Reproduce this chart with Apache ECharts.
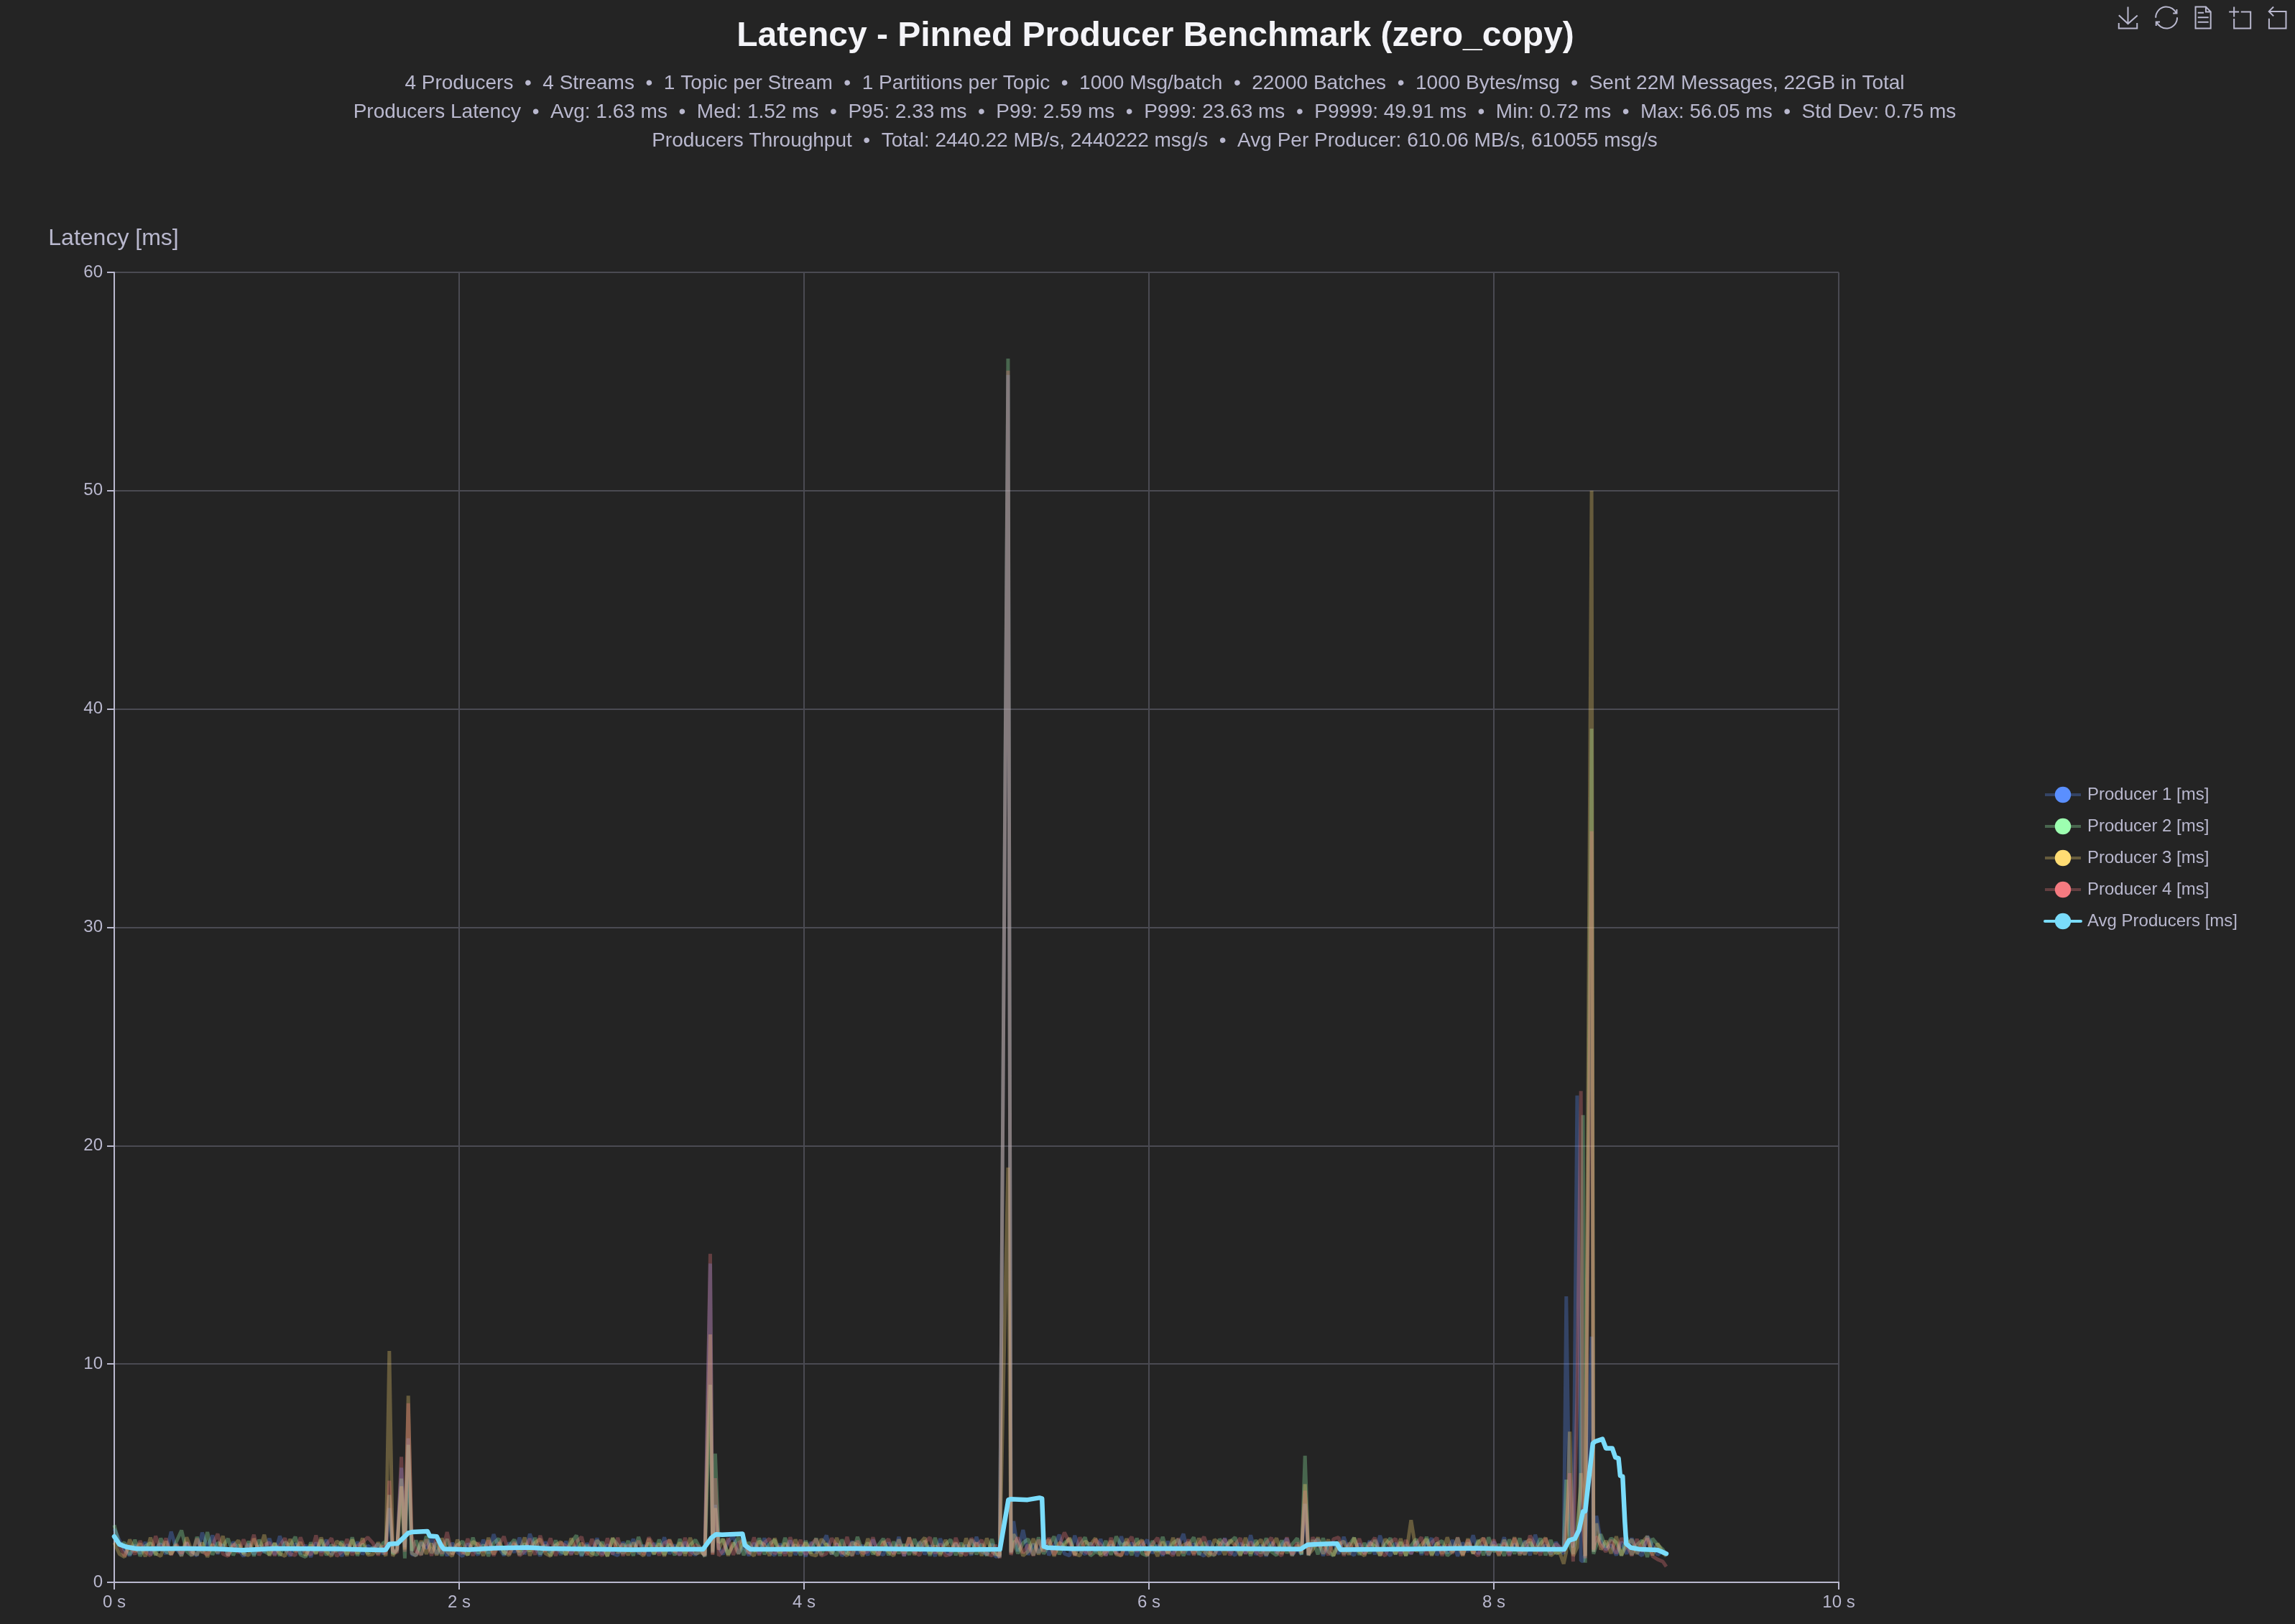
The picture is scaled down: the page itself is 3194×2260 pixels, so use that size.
<!DOCTYPE html>
<html>
<head>
<meta charset="utf-8">
<title>Latency - Pinned Producer Benchmark (zero_copy)</title>
<script src="https://cdn.jsdelivr.net/npm/echarts@6/dist/echarts.min.js"></script>
<style>
  html, body { margin: 0; padding: 0; background: #242424; }
  #chart { width: 3194px; height: 2260px; }
</style>
</head>
<body>
<div id="chart"></div>
<script>
const chartTitle = 'Latency - Pinned Producer Benchmark (zero_copy)';
const chartSubtitle = [
  '4 Producers  •  4 Streams  •  1 Topic per Stream  •  1 Partitions per Topic  •  1000 Msg/batch  •  22000 Batches  •  1000 Bytes/msg  •  Sent 22M Messages, 22GB in Total',
  'Producers Latency  •  Avg: 1.63 ms  •  Med: 1.52 ms  •  P95: 2.33 ms  •  P99: 2.59 ms  •  P999: 23.63 ms  •  P9999: 49.91 ms  •  Min: 0.72 ms  •  Max: 56.05 ms  •  Std Dev: 0.75 ms',
  'Producers Throughput  •  Total: 2440.22 MB/s, 2440222 msg/s  •  Avg Per Producer: 610.06 MB/s, 610055 msg/s'
];
const seriesNames = ['Producer 1 [ms]', 'Producer 2 [ms]', 'Producer 3 [ms]', 'Producer 4 [ms]', 'Avg Producers [ms]'];
const seriesColors = ['#5a8fff', '#9dffb0', '#ffdc73', '#f47a80', '#7adcfb'];

// seconds, tighter around the latency spikes
const timeSec = [
  0,0.03,0.06,0.09,0.12,0.15,0.18,0.21,0.24,0.27,
  0.30,0.33,0.36,0.39,0.42,0.45,0.48,0.51,0.54,0.57,
  0.60,0.63,0.66,0.69,0.72,0.75,0.78,0.81,0.84,0.87,
  0.90,0.93,0.96,0.99,1.02,1.05,1.08,1.11,1.14,1.17,
  1.20,1.23,1.26,1.29,1.32,1.35,1.38,1.41,1.44,1.47,
  1.50,1.53,1.56,1.575,1.595,1.615,1.64,1.665,1.685,1.705,
  1.725,1.75,1.78,1.81,1.84,1.87,1.90,1.93,1.96,1.99,
  2.02,2.05,2.08,2.11,2.14,2.17,2.20,2.23,2.26,2.29,
  2.32,2.35,2.38,2.41,2.44,2.47,2.50,2.53,2.56,2.59,
  2.62,2.65,2.68,2.71,2.74,2.77,2.80,2.83,2.86,2.89,
  2.92,2.95,2.98,3.01,3.04,3.07,3.10,3.13,3.16,3.19,
  3.22,3.25,3.28,3.31,3.34,3.37,3.40,3.425,3.456,3.47,
  3.485,3.505,3.53,3.56,3.59,3.62,3.65,3.68,3.71,3.74,
  3.77,3.80,3.83,3.86,3.89,3.92,3.95,3.98,4.01,4.04,
  4.07,4.10,4.13,4.16,4.19,4.22,4.25,4.28,4.31,4.34,
  4.37,4.40,4.43,4.46,4.49,4.52,4.55,4.58,4.61,4.64,
  4.67,4.70,4.73,4.76,4.79,4.82,4.85,4.88,4.91,4.94,
  4.97,5.00,5.03,5.06,5.09,5.11,5.135,5.183,5.20,5.215,
  5.24,5.27,5.30,5.33,5.36,5.39,5.42,5.45,5.48,5.51,
  5.54,5.57,5.60,5.63,5.66,5.69,5.72,5.75,5.78,5.81,
  5.84,5.87,5.90,5.93,5.96,5.99,6.02,6.05,6.08,6.11,
  6.14,6.17,6.20,6.23,6.26,6.29,6.32,6.35,6.38,6.41,
  6.44,6.47,6.50,6.53,6.56,6.59,6.62,6.65,6.68,6.71,
  6.74,6.77,6.80,6.83,6.86,6.885,6.905,6.925,6.95,6.98,
  7.01,7.04,7.07,7.10,7.13,7.16,7.19,7.22,7.25,7.28,
  7.31,7.34,7.37,7.40,7.43,7.46,7.49,7.52,7.55,7.58,
  7.61,7.64,7.67,7.70,7.73,7.76,7.79,7.82,7.85,7.88,
  7.91,7.94,7.97,8.00,8.03,8.06,8.09,8.12,8.15,8.18,
  8.21,8.24,8.27,8.30,8.33,8.36,8.385,8.405,8.42,8.44,
  8.46,8.483,8.505,8.517,8.53,8.567,8.578,8.595,8.62,8.65,
  8.68,8.71,8.74,8.77,8.80,8.83,8.86,8.89,8.92,8.95,
  8.98,9.00
];

const producer1 = [
  2.45,1.92,1.48,1.22,1.72,1.31,1.84,1.27,1.58,1.76,
  1.29,2.32,1.52,1.24,1.80,1.39,1.22,2.28,1.58,2.15,
  1.30,1.72,1.25,1.85,1.50,1.19,1.76,1.28,1.68,1.37,
  2.01,1.26,2.12,1.52,1.21,1.78,1.30,1.70,1.16,1.82,
  1.38,1.95,1.26,1.67,1.20,1.73,1.39,1.85,1.28,1.68,
  1.52,1.76,1.29,1.55,3.40,1.35,1.50,5.25,1.60,6.60,
  1.28,1.24,1.82,1.55,2.08,1.30,1.70,1.22,1.80,1.38,
  1.19,1.77,1.52,1.25,1.95,1.32,2.20,1.58,1.23,1.82,
  1.36,2.05,1.28,2.22,1.60,1.21,1.86,1.38,1.72,1.26,
  1.88,1.31,1.68,1.20,1.79,1.40,2.02,1.27,1.73,1.32,
  1.23,1.84,1.42,1.98,1.29,1.70,1.21,1.80,1.35,2.06,
  1.30,1.72,1.24,1.85,1.42,1.26,1.48,1.22,14.60,1.35,
  3.55,1.60,1.28,1.88,2.12,1.32,1.68,1.22,1.80,1.30,
  2.02,1.40,1.24,1.76,1.33,1.92,1.26,1.70,1.19,1.84,
  1.34,1.66,2.15,1.28,1.78,1.22,1.42,1.88,1.30,1.70,
  1.24,1.96,1.36,1.26,1.82,1.33,2.08,1.21,1.73,1.35,
  1.86,1.28,1.68,1.20,2.00,1.42,1.26,1.78,1.32,1.70,
  1.24,2.08,1.40,1.28,1.76,1.18,1.20,55.30,1.35,2.80,
  1.42,2.40,1.26,1.76,1.34,2.02,1.24,1.68,2.18,1.31,
  1.22,2.14,1.46,1.28,1.80,1.40,1.98,1.24,1.72,1.32,
  2.10,1.26,1.82,1.20,1.68,1.94,1.33,1.70,1.22,1.88,
  1.30,1.65,2.22,1.26,1.78,1.34,1.21,1.90,1.48,1.29,
  2.02,1.40,1.24,1.80,1.32,2.16,1.26,1.70,1.20,1.84,
  1.34,1.72,2.00,1.24,1.52,1.28,3.60,1.26,1.76,1.98,
  1.22,1.68,1.84,1.30,2.08,1.40,1.24,1.78,1.32,1.90,
  1.28,2.14,1.45,1.22,1.80,1.34,1.70,1.30,1.88,1.26,
  1.72,2.02,1.24,1.66,1.33,1.94,1.20,1.82,1.40,2.16,
  1.30,1.70,1.22,1.86,1.42,2.06,1.26,1.76,1.31,1.90,
  1.24,2.18,1.40,1.70,1.28,1.84,1.50,1.30,13.10,2.20,
  1.60,22.30,1.00,0.95,1.30,11.25,1.40,3.05,1.90,1.50,
  1.72,1.24,1.85,1.30,2.02,1.40,1.22,2.12,1.68,1.26,
  1.45,1.30
];

const producer2 = [
  2.62,1.68,1.82,1.26,1.95,1.20,1.66,1.80,1.24,2.02,
  1.40,1.30,1.86,2.38,1.42,1.22,2.08,1.34,2.30,1.26,
  1.82,1.65,2.00,1.24,1.72,1.32,1.88,1.20,1.95,1.42,
  1.28,1.78,1.22,1.84,1.66,2.08,1.26,1.16,1.82,1.34,
  1.95,1.24,1.72,1.40,1.88,1.28,2.06,1.22,1.76,1.31,
  1.60,1.31,1.82,1.80,4.00,1.30,1.45,4.75,1.10,6.30,
  1.45,1.92,1.26,2.12,1.34,1.82,1.22,1.98,1.30,1.70,
  1.88,1.24,2.05,1.32,1.72,1.20,1.80,2.00,1.28,1.66,
  1.96,1.26,1.78,1.42,2.04,1.28,1.70,1.22,1.92,1.40,
  1.30,1.82,2.15,1.24,1.70,1.34,1.26,1.86,1.20,2.00,
  1.72,1.31,1.90,1.22,2.08,1.40,1.80,1.28,1.96,1.26,
  1.76,1.24,1.98,1.34,1.70,1.94,1.52,1.18,9.05,1.40,
  5.90,1.82,1.98,1.28,1.70,2.06,1.24,1.84,1.40,2.02,
  1.28,1.76,1.94,1.22,2.04,1.40,1.72,1.24,1.90,1.32,
  2.02,1.26,1.78,1.45,1.22,1.96,1.34,1.26,2.08,1.42,
  1.82,1.28,1.70,2.00,1.24,1.86,1.32,1.74,1.26,1.98,
  1.42,1.90,1.22,2.04,1.30,1.72,1.96,1.24,1.80,1.40,
  1.96,1.28,1.76,1.22,1.98,1.40,1.15,56.05,1.40,1.90,
  1.32,1.80,1.98,1.24,2.06,1.30,1.70,2.10,1.28,1.80,
  1.98,1.26,1.72,2.06,1.22,1.40,1.30,1.90,1.26,2.10,
  1.68,1.82,1.24,2.02,1.32,1.22,1.90,1.40,2.08,1.30,
  1.80,1.96,1.22,1.70,2.06,1.26,1.84,1.32,1.24,1.98,
  1.66,1.84,2.06,1.26,1.72,1.22,1.94,1.32,2.02,1.40,
  1.24,1.92,1.34,1.74,2.02,1.26,5.80,1.22,1.94,1.28,
  2.02,1.40,1.22,1.86,1.30,1.70,2.04,1.26,1.80,1.32,
  1.94,1.24,1.72,2.02,1.28,1.84,1.22,1.68,1.98,1.34,
  2.08,1.26,1.76,1.90,1.22,1.42,2.04,1.28,1.82,1.32,
  1.94,1.24,2.06,1.40,1.74,1.22,1.96,1.30,2.02,1.26,
  1.84,1.44,2.02,1.24,1.94,1.32,1.40,1.50,4.70,1.70,
  1.30,2.40,4.40,21.40,0.90,39.10,1.30,1.70,2.20,1.60,
  2.02,1.82,1.22,2.06,1.26,1.72,1.92,1.16,2.00,1.72,
  1.50,1.25
];

const producer3 = [
  1.82,1.30,1.16,1.96,1.40,1.78,1.18,2.05,1.32,1.20,
  1.88,1.28,1.70,1.20,2.06,1.42,1.26,1.82,1.16,1.74,
  1.34,2.12,1.22,1.66,1.92,1.30,1.24,2.00,1.40,2.18,
  1.22,1.80,1.32,1.20,1.98,1.40,1.84,1.22,1.72,1.30,
  2.05,1.40,1.20,1.88,1.72,1.22,1.96,1.30,2.02,1.26,
  1.28,1.83,1.40,1.21,10.60,1.20,1.55,4.40,1.50,8.55,
  1.34,1.22,1.90,1.30,1.78,1.24,2.02,1.40,1.20,1.95,
  1.40,1.26,1.86,1.72,1.22,2.04,1.28,1.82,1.40,1.24,
  1.76,1.40,2.05,1.22,1.82,1.98,1.32,1.20,1.70,1.86,
  1.24,2.02,1.28,1.80,1.40,1.22,1.92,1.66,1.20,2.04,
  1.34,1.76,1.24,1.82,1.40,1.22,2.00,1.30,1.78,1.20,
  1.96,1.40,1.82,1.22,2.04,1.30,1.38,1.26,11.35,1.30,
  3.40,1.50,1.98,1.22,1.82,1.30,2.06,1.40,1.22,1.88,
  1.72,1.22,2.02,1.34,1.80,1.20,1.96,1.40,1.82,1.28,
  1.22,1.98,1.70,1.30,2.04,1.40,1.22,1.82,1.72,1.20,
  2.00,1.42,1.24,1.88,1.40,1.22,1.96,1.32,2.06,1.26,
  1.78,2.04,1.30,1.68,1.22,1.94,1.40,1.82,1.20,2.02,
  1.30,1.82,1.22,2.02,1.40,1.28,1.25,19.00,1.30,2.20,
  1.80,1.22,1.42,2.00,1.28,1.76,1.94,1.20,1.82,1.66,
  2.04,1.30,1.22,1.88,1.72,2.02,1.22,1.40,1.90,1.28,
  1.22,2.00,1.42,1.74,1.94,1.26,1.66,1.20,1.86,1.34,
  2.04,1.22,1.70,1.82,1.30,2.02,1.40,1.20,1.96,1.78,
  1.26,1.94,1.68,1.22,2.04,1.32,1.72,1.96,1.24,1.66,
  2.02,1.30,1.84,1.22,1.70,1.32,4.50,1.28,1.50,2.06,
  1.30,1.96,1.22,1.72,1.88,1.26,2.04,1.40,1.22,1.82,
  1.66,1.22,1.98,1.72,1.30,2.00,1.22,2.85,1.40,1.72,
  1.98,1.22,1.82,1.30,2.06,1.40,1.72,1.22,2.00,1.32,
  1.84,2.02,1.26,1.70,1.22,1.94,1.40,2.06,1.24,1.80,
  1.96,1.30,1.76,2.04,1.22,1.42,1.30,0.85,1.40,6.90,
  1.20,1.60,5.00,4.00,1.20,50.00,1.40,2.70,1.50,1.90,
  1.32,2.10,1.24,1.72,1.96,1.30,1.82,2.10,1.24,1.78,
  1.35,1.20
];

const producer4 = [
  2.08,1.72,1.20,1.68,1.28,1.90,1.40,1.22,2.12,1.45,
  2.02,1.24,1.76,1.32,1.84,1.22,2.00,1.40,1.26,1.72,
  2.22,1.30,1.20,1.76,1.34,1.96,1.42,2.18,1.24,1.70,
  1.82,1.22,1.68,2.02,1.30,1.24,2.06,1.42,1.26,2.15,
  1.22,1.72,2.02,1.20,1.40,1.98,1.24,1.68,1.84,2.06,
  1.80,1.24,1.68,1.28,4.65,1.45,1.35,5.75,1.40,8.20,
  2.12,1.42,1.26,1.96,1.22,2.06,1.30,2.30,1.26,1.76,
  1.30,2.00,1.22,1.82,1.40,1.92,1.22,1.70,2.10,1.28,
  1.84,1.22,1.42,2.00,1.26,2.14,1.40,2.02,1.22,1.82,
  1.66,1.26,1.86,2.08,1.24,1.98,1.42,1.22,2.02,1.28,
  2.04,1.22,1.72,1.40,1.90,1.26,2.06,1.66,1.24,1.80,
  1.92,1.40,1.26,2.04,1.22,1.72,1.58,1.20,15.05,1.25,
  4.77,1.22,1.42,2.02,1.26,1.80,1.96,1.30,2.06,1.24,
  1.82,2.00,1.30,1.66,1.22,2.06,1.40,1.94,1.26,1.72,
  1.98,1.22,1.32,2.02,1.70,1.30,2.08,1.20,1.90,1.32,
  1.42,2.06,1.24,1.76,1.98,1.28,1.70,1.22,2.04,1.40,
  1.24,1.82,2.06,1.32,1.76,1.22,1.28,2.04,1.42,1.24,
  2.02,1.66,1.94,1.30,1.22,1.72,1.10,55.50,1.25,1.70,
  2.06,1.34,1.72,1.22,1.94,1.42,2.04,1.26,1.70,2.28,
  1.80,1.22,2.06,1.40,1.30,1.96,1.72,1.22,2.04,1.34,
  1.24,1.76,2.08,1.40,1.90,1.22,1.74,2.04,1.30,1.42,
  1.22,2.02,1.34,1.96,1.24,1.76,2.08,1.42,1.26,1.70,
  1.98,1.24,1.72,2.02,1.30,1.86,1.40,1.22,1.80,2.04,
  1.40,1.22,2.06,1.28,1.82,1.40,4.20,1.24,2.06,1.66,
  1.76,1.24,1.98,2.06,1.22,1.80,1.42,2.00,1.28,1.70,
  2.04,1.40,1.22,1.84,2.00,1.22,1.94,1.30,1.76,2.06,
  1.26,1.82,2.04,1.22,1.72,1.32,2.06,1.24,1.94,1.40,
  1.22,2.04,1.42,1.96,1.26,1.80,1.22,2.02,1.44,1.30,
  2.14,1.70,1.24,2.02,1.40,1.76,1.60,1.40,2.60,5.00,
  0.95,8.55,22.50,2.60,1.10,34.40,1.50,2.10,1.70,1.40,
  1.94,1.32,2.02,1.70,1.22,1.98,1.40,2.02,1.20,1.05,
  0.95,0.72
];

const avgTimeSec = [
  0,0.03,0.07,0.13,0.25,0.40,0.60,0.74,0.80,0.93,1.10,1.30,1.45,1.56,1.575,1.595,1.643,1.705,1.726,1.816,
  1.83,1.87,1.895,1.91,2.06,2.20,2.40,2.50,3.00,3.254,3.414,3.463,3.49,3.525,3.643,3.657,3.69,3.84,4.30,4.92,
  5.136,5.185,5.20,5.296,5.365,5.38,5.39,5.41,5.55,5.76,6.30,6.88,6.92,7.00,7.09,7.11,7.50,7.90,8.17,8.408,
  8.436,8.47,8.494,8.517,8.53,8.574,8.588,8.63,8.65,8.687,8.705,8.723,8.733,8.747,8.76,8.768,8.795,8.85,8.95,9.00
];
const avgProducers = [
  2.10,1.74,1.62,1.54,1.54,1.55,1.53,1.47,1.50,1.55,1.54,1.53,1.50,1.48,1.50,1.75,1.78,2.26,2.30,2.34,
  2.12,2.10,1.70,1.53,1.50,1.56,1.60,1.55,1.50,1.51,1.51,2.04,2.20,2.18,2.22,1.70,1.51,1.51,1.55,1.50,
  1.51,3.78,3.81,3.78,3.87,3.84,1.64,1.59,1.54,1.54,1.55,1.52,1.72,1.75,1.78,1.50,1.52,1.56,1.51,1.51,
  1.92,2.00,2.39,3.24,3.26,6.36,6.45,6.56,6.14,6.14,5.72,5.68,4.88,4.85,2.75,1.76,1.59,1.51,1.48,1.31
];

const xTicks = { min: 0, max: 10, interval: 2 };
const yTicks = { min: 0, max: 60, interval: 10 };

const fontFamily = '"Liberation Sans", Arial, sans-serif';
const textColor = '#b9b8ce';
const splitColor = '#4a4a52';
const producerWidth = 5;
const producerOpacity = 0.3;

const producers = [producer1, producer2, producer3, producer4];

function producerSeries(values, i) {
  return {
    name: seriesNames[i],
    type: 'line',
    symbol: 'circle',
    showSymbol: false,
    animation: false,
    itemStyle: { color: seriesColors[i] },
    lineStyle: { width: producerWidth, opacity: producerOpacity, color: seriesColors[i] },
    data: timeSec.map((t, k) => [t, values[k]])
  };
}

const chart = echarts.init(document.getElementById('chart'), null, { renderer: 'canvas' });

chart.setOption({
  backgroundColor: '#242424',
  animation: false,
  textStyle: { fontFamily: fontFamily, color: textColor },
  title: [
    {
      text: chartTitle,
      left: 1608,
      top: 27,
      textAlign: 'center',
      padding: 0,
      textStyle: { fontFamily: fontFamily, fontSize: 48, fontWeight: 'bold', color: '#f4f4f8' }
    },
    {
      text: chartSubtitle.join('\n'),
      left: 1607,
      top: 96,
      textAlign: 'center',
      padding: 0,
      textStyle: { fontFamily: fontFamily, fontSize: 28, fontWeight: 'normal', color: textColor, lineHeight: 40 }
    }
  ],
  toolbox: {
    show: true,
    right: 10,
    top: 7,
    padding: 0,
    itemSize: 30,
    itemGap: 20.5,
    iconStyle: { borderColor: textColor, borderWidth: 2 },
    feature: {
      saveAsImage: {},
      restore: {},
      dataView: {},
      dataZoom: {}
    }
  },
  tooltip: { trigger: 'axis' },
  legend: {
    orient: 'vertical',
    left: 2844,
    top: 1094,
    padding: 0,
    itemWidth: 50,
    itemHeight: 28,
    itemGap: 20,
    textStyle: { fontFamily: fontFamily, fontSize: 24, color: textColor, padding: [0, 0, 0, 4] },
    data: seriesNames.map((name, i) => ({ name: name, lineStyle: { width: 4 } }))
  },
  grid: { left: 159, right: 635, top: 379, bottom: 58, containLabel: false },
  xAxis: {
    type: 'value',
    min: xTicks.min,
    max: xTicks.max,
    interval: xTicks.interval,
    axisLine: { onZero: false, lineStyle: { color: textColor, width: 2 } },
    axisTick: { show: true, length: 10, lineStyle: { color: textColor, width: 2 } },
    axisLabel: { color: textColor, fontSize: 24, fontFamily: fontFamily, margin: 16, formatter: '{value} s' },
    splitLine: { show: true, lineStyle: { color: splitColor, width: 2 } }
  },
  yAxis: {
    type: 'value',
    name: 'Latency [ms]',
    nameLocation: 'end',
    nameGap: 31,
    nameTextStyle: { color: textColor, fontSize: 32, fontFamily: fontFamily, padding: [0, 2, 0, 0] },
    min: yTicks.min,
    max: yTicks.max,
    interval: yTicks.interval,
    axisLine: { show: true, onZero: false, lineStyle: { color: textColor, width: 2 } },
    axisTick: { show: true, length: 10, lineStyle: { color: textColor, width: 2 } },
    axisLabel: { color: textColor, fontSize: 24, fontFamily: fontFamily, margin: 16 },
    splitLine: { show: true, lineStyle: { color: splitColor, width: 2 } }
  },
  series: producers.map(producerSeries).concat([{
    name: seriesNames[4],
    type: 'line',
    symbol: 'circle',
    showSymbol: false,
    animation: false,
    z: 5,
    itemStyle: { color: seriesColors[4] },
    lineStyle: { width: 6.5, color: seriesColors[4], join: 'round', cap: 'round' },
    data: avgTimeSec.map((t, k) => [t, avgProducers[k]])
  }])
});
</script>
</body>
</html>
